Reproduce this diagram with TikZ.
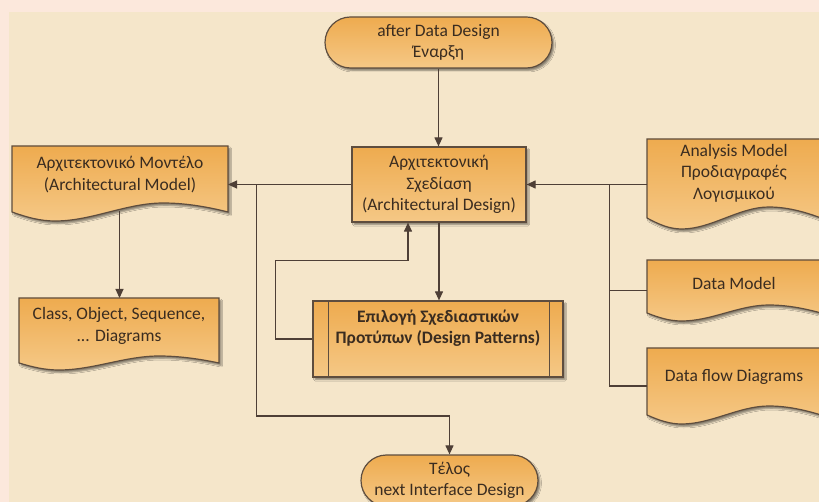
\documentclass[tikz,border=0pt]{standalone}
\usepackage{fontspec}
\setmainfont{Carlito}
\usetikzlibrary{arrows.meta,shadows.blur,calc}

\definecolor{outerbg}{HTML}{FCE8DC}
\definecolor{panelbg}{HTML}{F5E6CA}
\definecolor{shapetop}{HTML}{EEAB4F}
\definecolor{shapebot}{HTML}{F5C886}
\definecolor{shapeline}{HTML}{5E4D3E}
\definecolor{conncol}{HTML}{4E3F36}
\definecolor{textcol}{HTML}{3A2C20}

\tikzset{
  shapefill/.style={top color=shapetop, bottom color=shapebot, draw=shapeline, line width=1.2pt,
    blur shadow={shadow xshift=2pt, shadow yshift=-2.5pt, shadow blur radius=1.5pt, shadow opacity=45}},
  txt/.style={text=textcol, font=\fontsize{17.5}{21.5}\selectfont, align=center, inner sep=0pt},
  termbox/.style={shapefill, txt, rectangle, rounded corners=25.5pt, minimum height=51pt},
  procbox/.style={shapefill, txt, rectangle},
  docarea/.style={rectangle, inner sep=0pt, outer sep=0pt},
  link/.style={draw=conncol, line width=1.1pt},
  conn/.style={link, -{Triangle[length=9pt,width=8pt]}},
}

% Document shape: flat top, wavy bottom.  #1=left #2=top #3=right #4=bottom #5=wave amplitude
\newcommand\docwave[5]{%
  \pgfmathsetmacro\dcW{#3-#1}%
  \path[shapefill] (#1,#2) -- (#3,#2) -- (#3,#4)
    .. controls ({#1+0.9*\dcW},{#4-0.6*#5}) and ({#1+0.8*\dcW},{#4-#5}) .. ({#1+0.7*\dcW},{#4-#5})
    .. controls ({#1+0.53*\dcW},{#4-#5}) and ({#1+0.37*\dcW},{#4+#5}) .. ({#1+0.2*\dcW},{#4+#5})
    .. controls ({#1+0.13*\dcW},{#4+#5}) and ({#1+0.07*\dcW},{#4+0.6*#5}) .. (#1,#4) -- cycle;%
}

\begin{document}
\begin{tikzpicture}[x=1pt,y=-1pt]
  \useasboundingbox (0,0) rectangle (819,502);
  \fill[outerbg] (0,0) rectangle (819,502);
  \fill[panelbg] (9,12) rectangle (819,502);

  % terminators
  \node[termbox, minimum width=227pt] (start) at (438.5,42.5) {after Data Design\\Έναρξη};
  \node[termbox, minimum width=177pt] (end) at (449.5,480.5) {Τέλος\\next Interface Design};

  % process boxes
  \node[procbox, minimum width=174pt, minimum height=75pt] (ad) at (439,184.5)
    {Αρχιτεκτονική\\Σχεδίαση\\(Architectural Design)};
  \node[procbox, minimum width=250pt, minimum height=76pt] (dp) at (438,339) {};
  \draw[shapeline, line width=1.2pt] ([xshift=16pt]dp.north west) -- ([xshift=16pt]dp.south west);
  \draw[shapeline, line width=1.2pt] ([xshift=-14pt]dp.north east) -- ([xshift=-14pt]dp.south east);
  \node[txt, font=\fontsize{17.5}{21.5}\selectfont\bfseries] (dptext) at (438,328)
    {Επιλογή Σχεδιαστικών\\Προτύπων (Design Patterns)};

  % documents
  \docwave{12}{146}{228}{212}{9}
  \node[docarea, minimum width=216pt, minimum height=75pt] (am) at (120,183.5) {};
  \node[txt] (amtext) at (120,174.5) {Αρχιτεκτονικό Μοντέλο\\(Architectural Model)};

  \docwave{19}{298}{219}{363}{7}
  \node[docarea, minimum width=200pt, minimum height=72pt] (cls) at (119,334) {};
  \node[txt] (clstext) at (119,326) {Class, Object, Sequence,\\... Diagrams};

  \docwave{647}{139}{821}{218}{11}
  \node[docarea, minimum width=174pt, minimum height=90pt] (an) at (734,183.5) {};
  \node[txt] (antext) at (734,173) {Analysis Model\\Προδιαγραφές\\Λογισμικού};

  \docwave{647}{260}{821}{313}{8}
  \node[docarea, minimum width=174pt, minimum height=61pt] (dm) at (734,290.5) {};
  \node[txt] (dmtext) at (734,283) {Data Model};

  \docwave{647}{348}{821}{415}{9}
  \node[docarea, minimum width=174pt, minimum height=76pt] (df) at (734,386) {};
  \node[txt] (dftext) at (734,377) {Data flow Diagrams};

  % connectors
  \coordinate (busr) at ($(ad.east)+(83,0)$);
  \coordinate (busl) at ($(ad.west)+(-95,0)$);
  \coordinate (amb) at (119.5,211);
  \coordinate (fb) at ($(ad.south)+(-31,38)$);

  \draw[conn] (start.south) -- (start.south |- ad.north);
  \draw[conn] (ad.east -| an.west) -- (ad.east);
  \draw[link] (busr) |- (dm.west);
  \draw[link] (busr) |- (df.west);
  \draw[conn] (ad.west) -- (ad.west -| am.east);
  \draw[conn] (busl) -- ++(0,231.5) -| (end.north);
  \draw[conn] (amb) -- (amb |- cls.north);
  \draw[conn] (ad.south) -- (ad.south |- dp.north);
  \draw[conn] (dp.west) -- ++(-37,0) |- (fb) -- (fb |- ad.south);
\end{tikzpicture}
\end{document}
